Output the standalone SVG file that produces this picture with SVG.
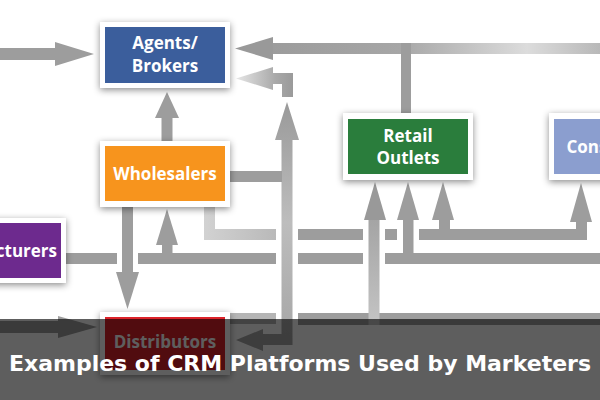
<svg xmlns="http://www.w3.org/2000/svg" width="600" height="400" viewBox="0 0 600 400">
<defs>
<filter id="sh" x="-20%" y="-20%" width="140%" height="150%">
<feDropShadow dx="0" dy="2" stdDeviation="3.5" flood-color="#000" flood-opacity="0.45"/>
</filter>
<linearGradient id="gTop" x1="235" y1="0" x2="600" y2="0" gradientUnits="userSpaceOnUse">
<stop offset="0" stop-color="#999"/><stop offset="0.45" stop-color="#a6a6a6"/><stop offset="0.8" stop-color="#dcdcdc"/><stop offset="1" stop-color="#b8b8b8"/>
</linearGradient>
<linearGradient id="gFade" x1="236" y1="0" x2="293" y2="0" gradientUnits="userSpaceOnUse">
<stop offset="0" stop-color="#e6e6e6"/><stop offset="0.7" stop-color="#a8a8a8"/><stop offset="1" stop-color="#9a9a9a"/>
</linearGradient>
<linearGradient id="gV" x1="0" y1="100" x2="0" y2="345" gradientUnits="userSpaceOnUse">
<stop offset="0" stop-color="#999"/><stop offset="0.5" stop-color="#bdbdbd"/><stop offset="1" stop-color="#a5a5a5"/>
</linearGradient>
<linearGradient id="gUp" x1="204" y1="0" x2="360" y2="0" gradientUnits="userSpaceOnUse">
<stop offset="0" stop-color="#d2d2d2"/><stop offset="1" stop-color="#9c9c9c"/>
</linearGradient>
<linearGradient id="gV2" x1="0" y1="182" x2="0" y2="325" gradientUnits="userSpaceOnUse">
<stop offset="0" stop-color="#999"/><stop offset="1" stop-color="#c4c4c4"/>
</linearGradient>
<style>
.c{fill:#9d9d9d}
.frame{fill:#fff;filter:url(#sh)}
.lbl{font-family:"Open Sans","Liberation Sans",sans-serif;font-weight:700;font-size:17px;fill:#fff;text-anchor:middle}
.title{font-family:"DejaVu Sans",sans-serif;font-weight:700;font-size:22px;fill:#fff;text-anchor:middle}
</style>
</defs>
<rect width="600" height="400" fill="#fff"/>
<g id="connectors">
<!-- left into agents -->
<rect class="c" x="0" y="48" width="58" height="12"/>
<polygon class="c" points="55,42 94,54 55,66"/>
<!-- top line into agents -->
<rect x="270" y="43" width="330" height="11" fill="url(#gTop)"/>
<polygon points="273,37 235,48.5 273,60" fill="#999"/>
<rect class="c" x="401" y="43" width="10" height="72"/>
<!-- L into agents lower right -->
<path d="M236,78.5 L273,67 L273,73 L293,73 L293,97 L282,97 L282,84 L273,84 L273,90 Z" fill="url(#gFade)"/>
<!-- vertical up from bottom -->
<path d="M287,102 L299,140 L292.5,140 L292.5,345 L263,345 L263,351 L236,340 L263,329 L263,334 L281.5,334 L281.5,140 L275,140 Z" fill="url(#gV)"/>
<!-- wholesalers right -->
<rect class="c" x="230" y="171" width="52" height="11"/>
<!-- wholesalers up to agents -->
<rect class="c" x="161.5" y="116" width="11" height="26"/>
<polygon class="c" points="155,118 167,92 179,118"/>
<!-- wholesalers down to distributors -->
<rect class="c" x="122" y="206" width="11" height="68"/>
<polygon class="c" points="116,272 139,272 127.5,309"/>
<!-- up into wholesalers -->
<rect class="c" x="162" y="243" width="10.5" height="16"/>
<polygon class="c" points="156,245 178,245 167,209"/>
<!-- second row bus -->
<rect class="c" x="64" y="253" width="53" height="11"/>
<rect class="c" x="138" y="253" width="138" height="11"/>
<rect class="c" x="298" y="253" width="65" height="11"/>
<rect class="c" x="385" y="253" width="215" height="11"/>
<rect class="c" x="403" y="218" width="10.5" height="40"/>
<polygon class="c" points="397,220 419,220 408,182"/>
<!-- upper row -->
<path d="M204,205 L215,205 L215,229 L276,229 L276,240 L204,240 Z" fill="url(#gUp)"/>
<rect class="c" x="298" y="229" width="65" height="11"/>
<rect class="c" x="385" y="229" width="12" height="11"/>
<rect class="c" x="419" y="229" width="168" height="11"/>
<rect class="c" x="439" y="218" width="11" height="15"/>
<polygon class="c" points="432,220 454,220 443,182"/>
<rect class="c" x="576" y="220" width="11" height="14"/>
<polygon class="c" points="570,222 592,222 581,183"/>
<!-- third row -->
<rect x="230" y="313" width="46" height="11" fill="#b5b5b5"/>
<rect class="c" x="298" y="313" width="302" height="12"/>
<rect x="368.5" y="218" width="11" height="107" fill="url(#gV2)"/>
<polygon points="364,220 386,220 375,182" fill="#999"/>
<!-- left into distributors -->
<rect class="c" x="0" y="321" width="60" height="12"/>
<polygon class="c" points="58,316 97,327 58,338"/>
</g>
<g id="agents">
<rect class="frame" x="100" y="22" width="130" height="66"/>
<rect x="105" y="27" width="120" height="56" fill="#3b5e9c"/>
<text class="lbl" x="165" y="49">Agents/</text>
<text class="lbl" x="165" y="72">Brokers</text>
</g>
<g id="wholesalers">
<rect class="frame" x="100" y="141" width="130" height="66"/>
<rect x="105" y="146" width="120" height="55" fill="#f7941d"/>
<text class="lbl" x="165" y="180">Wholesalers</text>
</g>
<g id="manufacturers">
<rect class="frame" x="-65" y="218" width="131" height="65"/>
<rect x="-60" y="223" width="121" height="55" fill="#6d2a8e"/>
<text class="lbl" x="57" y="257" style="text-anchor:end">Manufacturers</text>
</g>
<g id="distributors">
<rect class="frame" x="100" y="312" width="130" height="63"/>
<rect x="105" y="317" width="120" height="53" fill="#dc2229"/>
<text class="lbl" x="165" y="348">Distributors</text>
</g>
<g id="retail">
<rect class="frame" x="343" y="113" width="130" height="67"/>
<rect x="348" y="119" width="120" height="55" fill="#2a7d3c"/>
<text class="lbl" x="408" y="142">Retail</text>
<text class="lbl" x="408" y="164">Outlets</text>
</g>
<g id="consumers">
<rect class="frame" x="549" y="113" width="130" height="67"/>
<rect x="554" y="119" width="120" height="55" fill="#8b9ecf"/>
<text class="lbl" x="614" y="153">Consumers</text>
</g>
<g id="banner">
<rect x="0" y="319" width="600" height="81" fill="#000" opacity="0.63"/>
<text class="title" x="300" y="371">Examples of CRM Platforms Used by Marketers</text>
</g>
</svg>
